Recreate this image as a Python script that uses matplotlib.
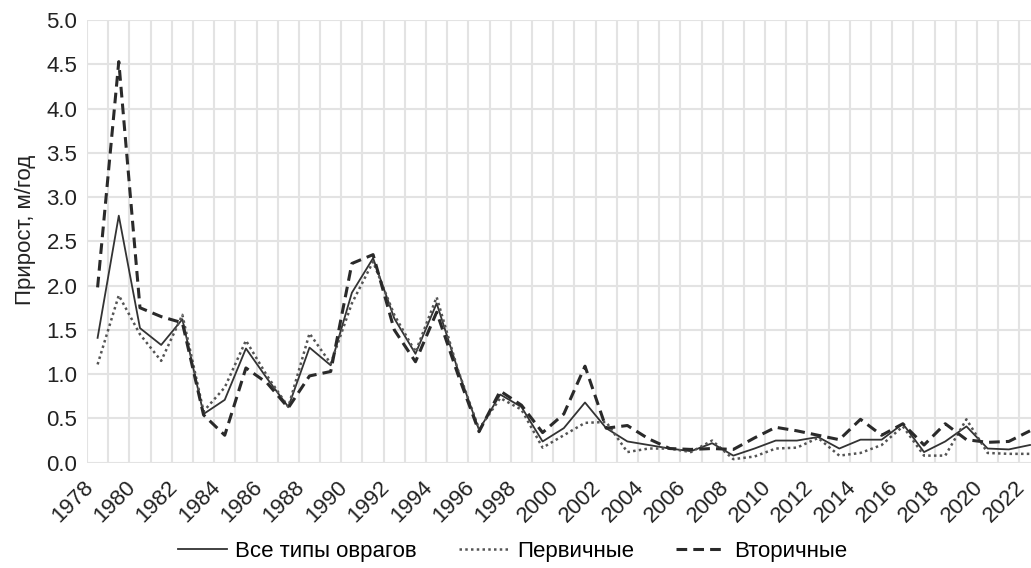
import numpy as np
import matplotlib
matplotlib.use("Agg")
import matplotlib.pyplot as plt

plt.rcParams['font.family'] = ['Liberation Sans', 'DejaVu Sans']

years = list(range(1978, 2023))

all_types = [1.41, 2.79, 1.52, 1.33, 1.62, 0.55, 0.71, 1.29, 0.95, 0.63,
             1.30, 1.10, 1.92, 2.31, 1.63, 1.23, 1.80, 1.05, 0.37, 0.77,
             0.63, 0.24, 0.39, 0.68, 0.39, 0.24, 0.20, 0.16, 0.13, 0.22,
             0.08, 0.16, 0.25, 0.25, 0.29, 0.16, 0.26, 0.26, 0.44, 0.12,
             0.24, 0.41, 0.16, 0.15, 0.20]

primary = [1.11, 1.89, 1.45, 1.15, 1.67, 0.58, 0.85, 1.38, 0.98, 0.63,
           1.46, 1.12, 1.80, 2.27, 1.67, 1.25, 1.87, 1.05, 0.38, 0.73,
           0.60, 0.17, 0.31, 0.45, 0.46, 0.12, 0.16, 0.16, 0.12, 0.25,
           0.04, 0.07, 0.16, 0.17, 0.28, 0.08, 0.11, 0.20, 0.41, 0.08,
           0.08, 0.49, 0.11, 0.10, 0.10]

secondary = [1.98, 4.53, 1.75, 1.65, 1.58, 0.54, 0.31, 1.07, 0.90, 0.62,
             0.98, 1.03, 2.25, 2.35, 1.50, 1.14, 1.70, 1.00, 0.35, 0.81,
             0.65, 0.34, 0.55, 1.09, 0.39, 0.42, 0.27, 0.16, 0.15, 0.16,
             0.15, 0.28, 0.40, 0.36, 0.31, 0.26, 0.49, 0.31, 0.44, 0.20,
             0.44, 0.26, 0.23, 0.24, 0.36]

labels = ["Все типы оврагов", "Первичные", "Вторичные"]

x = np.arange(len(years))

fig = plt.figure(figsize=(10.31, 5.68), dpi=100)
# plot area runs a little past the right edge, as in the source image
ax = fig.add_axes([87 / 1031, 1 - 462.7 / 568, 953.6 / 1031, 442.7 / 568])

ax.plot(x, all_types, color="#333333", lw=1.3, label=labels[0])
ax.plot(x, primary, color="#555555", lw=1.8, linestyle=(0, (1, 1.3)), label=labels[1])
ax.plot(x, secondary, color="#2a2a2a", lw=2.2, linestyle=(0, (3.5, 2)), label=labels[2])

ax.set_xlim(-0.5, len(years) - 0.5)
ax.set_ylim(0, 5)
yt = np.arange(0, 5.01, 0.5)
ax.set_yticks(yt)
ax.set_yticklabels([f"{v:.1f}" for v in yt])
# labels sit a hair left of the category centre
ax.set_xticks(x[::2] - 0.18)
ax.set_xticklabels([str(y) for y in years[::2]], rotation=45, ha="right",
                   va="baseline", rotation_mode="anchor")
ax.set_xticks(np.arange(-0.5, len(years), 1), minor=True)

ax.grid(True, axis="y", color="#e3e3e3", lw=1.5)
ax.grid(True, axis="x", which="minor", color="#e3e3e3", lw=1.5)
ax.grid(False, axis="x", which="major")
ax.set_axisbelow(True)
for s in ax.spines.values():
    s.set_visible(False)
ax.tick_params(axis="both", which="both", length=0, labelsize=16, colors="#222222")
ax.tick_params(axis="x", pad=18)
ax.tick_params(axis="y", pad=7)
ax.set_ylabel("Прирост, м/год", fontsize=16, color="#222222")
ax.yaxis.set_label_coords(-0.054, 0.526)

fig.legend(loc="center", bbox_to_anchor=(0.497, 1 - 551 / 568), ncol=3, frameon=False,
           fontsize=16, handlelength=2.2, columnspacing=1.9, handletextpad=0.4)

fig.savefig("out.png", dpi=100)
